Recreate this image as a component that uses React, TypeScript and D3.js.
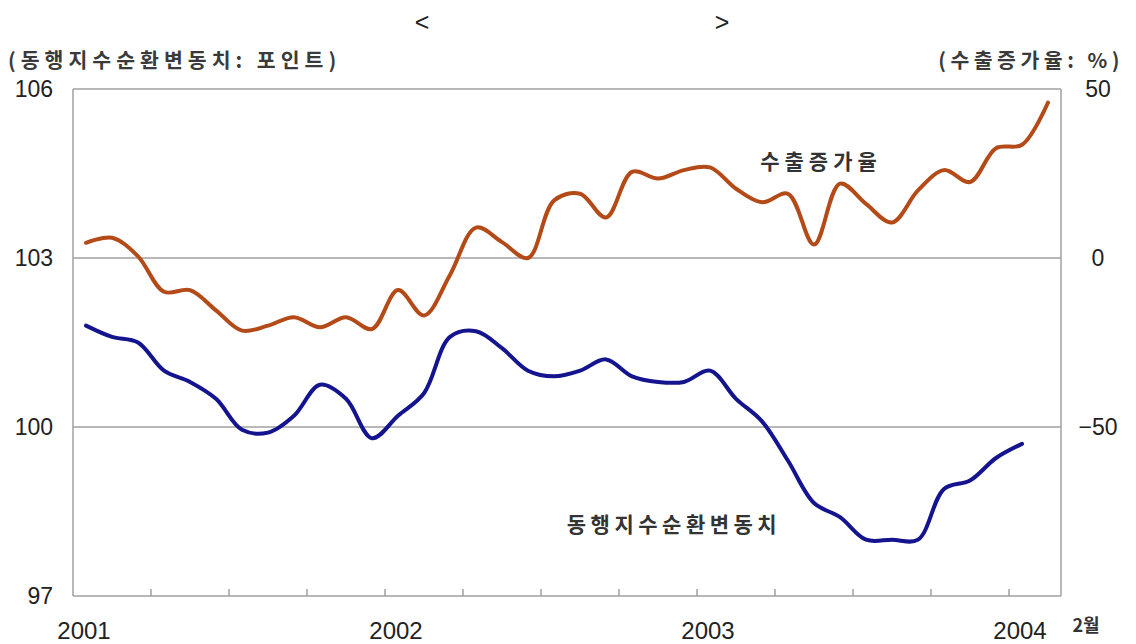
import React from "react";
import * as d3 from "d3";

const months: string[] = [
  "2001-01","2001-02","2001-03","2001-04","2001-05","2001-06","2001-07","2001-08","2001-09","2001-10","2001-11","2001-12",
  "2002-01","2002-02","2002-03","2002-04","2002-05","2002-06","2002-07","2002-08","2002-09","2002-10","2002-11","2002-12",
  "2003-01","2003-02","2003-03","2003-04","2003-05","2003-06","2003-07","2003-08","2003-09","2003-10","2003-11","2003-12",
  "2004-01","2004-02",
];

// 수출증가율 (%), right axis
const exportGrowth: (number | null)[] = [
  4.5, 6, 0.5, -10, -9.5, -15.5, -21.5, -20, -17.5, -20.5, -17.5, -21,
  -9.5, -17, -5, 9, 4.7, 0, 17, 19, 12, 25.5, 23.5, 26,
  26.8, 20.5, 16.5, 19, 4, 22, 16, 10.5, 20, 26, 22.5, 32.5,
  33.5, 46,
];

// 동행지수순환변동치 (point), left axis
const coincident: (number | null)[] = [
  101.8, 101.6, 101.5, 101.0, 100.8, 100.5, 99.95, 99.9, 100.2, 100.75, 100.5, 99.8,
  100.2, 100.6, 101.6, 101.7, 101.4, 101.0, 100.9, 101.0, 101.2, 100.9, 100.8, 100.8,
  101.0, 100.5, 100.1, 99.4, 98.65, 98.4, 98.0, 98.0, 98.0, 98.9, 99.05, 99.45,
  99.7, null,
];

const leftTicks: number[] = [97, 100, 103, 106];
const rightTicks: number[] = [0, 50, -50];
const yearLabels: { month: string; label: string }[] = [
  { month: "2001-01", label: "2001" },
  { month: "2002-01", label: "2002" },
  { month: "2003-01", label: "2003" },
  { month: "2004-01", label: "2004" },
];

export default function App() {
  const W = 1136, H = 644;
  const left = 73, right = 1061, top = 89, bottom = 596;
  const x = d3.scaleBand<string>().domain(months).range([left, right]).padding(0);
  const yL = d3.scaleLinear().domain([97, 106]).range([bottom, top]);
  const yR = d3.scaleLinear().domain([-100, 50]).range([bottom, top]);
  const cx = (m: string) => (x(m) as number) + x.bandwidth() / 2;

  const lineR = d3.line<number | null>()
    .defined((d) => d !== null)
    .x((_, i) => cx(months[i]))
    .y((d) => yR(d as number))
    .curve(d3.curveCatmullRom.alpha(0.5));
  const lineL = d3.line<number | null>()
    .defined((d) => d !== null)
    .x((_, i) => cx(months[i]))
    .y((d) => yL(d as number))
    .curve(d3.curveCatmullRom.alpha(0.5));

  const grid = "#a0a0a0";
  const txt = "#222";
  const kfont = "'Noto Sans CJK KR', 'Noto Sans', sans-serif";
  const nfont = "'Liberation Sans', Arial, sans-serif";
  const qTicks = months.filter((_, i) => i > 0 && i % 3 === 0);

  return (
    <svg width={W} height={H} style={{ position: "absolute", left: 0, top: 0, background: "#fff" }}>
      <text x={422} y={31} fontSize={25} fontFamily={nfont} fill={txt} textAnchor="middle">&lt;</text>
      <text x={722} y={31} fontSize={25} fontFamily={nfont} fill={txt} textAnchor="middle">&gt;</text>

      <text x={8} y={68} fontSize={20.5} fontFamily={kfont} fontWeight={700} fill="#3a3a3a" letterSpacing={5}>
        (동행지수순환변동치: 포인트)
      </text>
      <text x={1124} y={68} fontSize={20.5} fontFamily={kfont} fontWeight={700} fill="#3a3a3a" textAnchor="end" letterSpacing={4.5}>
        (수출증가율: %)
      </text>

      {/* plot frame */}
      <line x1={left} x2={right} y1={top} y2={top} stroke={grid} strokeWidth={1.5} />
      <line x1={left} x2={left} y1={top} y2={bottom} stroke={grid} strokeWidth={1.5} />
      <line x1={right} x2={right} y1={top} y2={bottom} stroke={grid} strokeWidth={1.5} />
      <line x1={left} x2={right} y1={bottom} y2={bottom} stroke={grid} strokeWidth={1.5} />
      {[100, 103].map((v) => (
        <line key={v} x1={left} x2={right} y1={yL(v)} y2={yL(v)} stroke={grid} strokeWidth={1.5} />
      ))}
      {qTicks.map((m) => (
        <line key={m} x1={x(m) as number} x2={x(m) as number} y1={bottom} y2={bottom - 7} stroke={grid} strokeWidth={1.5} />
      ))}

      {leftTicks.map((v) => (
        <text key={v} x={53} y={yL(v) + 8} fontSize={23} fontFamily={nfont} fill={txt} textAnchor="end">{v}</text>
      ))}
      {rightTicks.map((v) => (
        <text key={v} x={1098} y={yR(v) + 8} fontSize={23} fontFamily={nfont} fill={txt} textAnchor="middle">
          {v < 0 ? "−" + Math.abs(v) : v}
        </text>
      ))}
      {yearLabels.map((d) => (
        <text key={d.label} x={cx(d.month) - 2} y={639} fontSize={24} fontFamily={nfont} fill={txt} textAnchor="middle">{d.label}</text>
      ))}
      <text x={1086} y={632} fontSize={18} fontFamily={kfont} fontWeight={700} fill="#333" textAnchor="middle">2월</text>

      <path d={lineR(exportGrowth) || ""} fill="none" stroke="#b34a17" strokeWidth={4} strokeLinejoin="round" strokeLinecap="round" />
      <path d={lineL(coincident) || ""} fill="none" stroke="#14148f" strokeWidth={4} strokeLinejoin="round" strokeLinecap="round" />

      <text x={821} y={169} fontSize={21} fontFamily={kfont} fontWeight={700} fill="#333" textAnchor="middle" letterSpacing={5}>수출증가율</text>
      <text x={674} y={532} fontSize={21} fontFamily={kfont} fontWeight={700} fill="#333" textAnchor="middle" letterSpacing={4.5}>동행지수순환변동치</text>
    </svg>
  );
}
